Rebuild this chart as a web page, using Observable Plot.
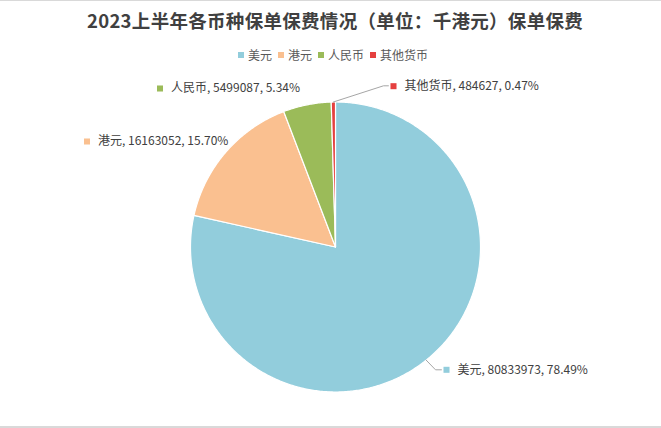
<!DOCTYPE html>
<html>
<head>
<meta charset="utf-8">
<script src="https://cdn.jsdelivr.net/npm/d3@7"></script>
<script src="https://cdn.jsdelivr.net/npm/@observablehq/plot@0.6"></script>
<style>
  body { margin: 0; background: #fff; }
  #wrap { position: relative; width: 661px; height: 428px; overflow: hidden; background: #fff;
          font-family: "Noto Sans CJK SC", "Noto Sans", sans-serif; }
  #chart { position: absolute; left: 0; top: 0; }
  #title { position: absolute; left: 0; top: 7px; width: 670px; text-align: center;
           font-size: 18.5px; font-weight: bold; color: #404040; line-height: 26px; letter-spacing: 0.3px; }
  #legend { position: absolute; left: 0; top: 46px; width: 672px; display: flex; justify-content: center;
            font-size: 12px; color: #595959; line-height: 18px; }
  .item { display: flex; align-items: center; margin-right: 6px; }
  .sw { width: 6px; height: 6px; margin-right: 4px; }
  .hr { position: absolute; left: 0; width: 661px; height: 1px; background: #d9d9d9; }
</style>
</head>
<body>
<div id="wrap">
  <div id="chart"></div>
  <div id="title"></div>
  <div id="legend"></div>
  <div class="hr" style="top:0"></div>
  <div class="hr" style="top:426px;height:2px"></div>
</div>
<script>
// ---- data ----
const titleText = "2023上半年各币种保单保费情况（单位：千港元）保单保费";
const categories = ["美元", "港元", "人民币", "其他货币"];
const values = [80833973, 16163052, 5499087, 484627];
const colors = ["#92CDDC", "#FAC090", "#9BBB59", "#E5403F"];

// ---- layout (label anchor positions in pie-radius units) ----
const labelLayout = {
  "美元":   { mx: 0.7655, my: -0.8469, elbow: [0.6897, -0.8469] },
  "港元":   { mx: -1.7138, my: 0.7276, elbow: null },
  "人民币": { mx: -1.2103, my: 1.0931, elbow: null },
  "其他货币": { mx: 0.4000, my: 1.1090, elbow: [0.3310, 1.1117] }
};

const total = d3.sum(values);
const fmtPct = d3.format(".2%");
const arcs = d3.pie().sort(null).value(d => d)(values);

// slice polygons
const slicePts = [];
arcs.forEach((p, i) => {
  const cat = categories[i];
  slicePts.push({ cat, x: 0, y: 0 });
  const n = Math.max(4, Math.ceil((p.endAngle - p.startAngle) / 0.01));
  for (let k = 0; k <= n; k++) {
    const a = p.startAngle + (p.endAngle - p.startAngle) * k / n;
    slicePts.push({ cat, x: Math.sin(a), y: Math.cos(a) });
  }
  slicePts.push({ cat, x: 0, y: 0 });
});

// labels & leader lines
const labels = [];
const leaderPts = [];
arcs.forEach((p, i) => {
  const cat = categories[i];
  const L = labelLayout[cat];
  labels.push({ cat, mx: L.mx, my: L.my,
    text: `${cat}, ${values[i]}, ${fmtPct(values[i] / total)}` });
  if (L.elbow) {
    const mid = (p.startAngle + p.endAngle) / 2;
    leaderPts.push({ cat, x: Math.sin(mid), y: Math.cos(mid) });
    leaderPts.push({ cat, x: L.elbow[0], y: L.elbow[1] });
    leaderPts.push({ cat, x: L.mx - 0.035, y: L.elbow[1] });
  }
});

const plot = Plot.plot({
  width: 661,
  height: 428,
  margin: 0,
  style: { fontFamily: '"Noto Sans CJK SC", "Noto Sans", sans-serif', background: "transparent" },
  x: { domain: [-1, 1], range: [190, 480], axis: null },
  y: { domain: [-1, 1], range: [391.5, 101.5], axis: null },
  color: { domain: categories, range: colors },
  marks: [
    Plot.line(slicePts, { x: "x", y: "y", z: "cat", fill: "cat", stroke: "white",
      strokeWidth: 1.2, strokeLinejoin: "round" }),
    Plot.line(leaderPts, { x: "x", y: "y", z: "cat", stroke: "#a6a6a6", strokeWidth: 1 }),
    Plot.dot(labels, { x: "mx", y: "my", symbol: "square", r: 3.4, fill: "cat", stroke: "none" }),
    Plot.text(labels, { x: "mx", y: "my", dx: 11, text: "text", textAnchor: "start",
      fill: "#404040", fontSize: 12 })
  ]
});
document.getElementById("chart").appendChild(plot);

document.getElementById("title").textContent = titleText;
const legend = document.getElementById("legend");
categories.forEach((c, i) => {
  const item = document.createElement("div");
  item.className = "item";
  const sw = document.createElement("span");
  sw.className = "sw";
  sw.style.background = colors[i];
  const t = document.createElement("span");
  t.textContent = c;
  item.appendChild(sw);
  item.appendChild(t);
  legend.appendChild(item);
});
</script>
</body>
</html>
